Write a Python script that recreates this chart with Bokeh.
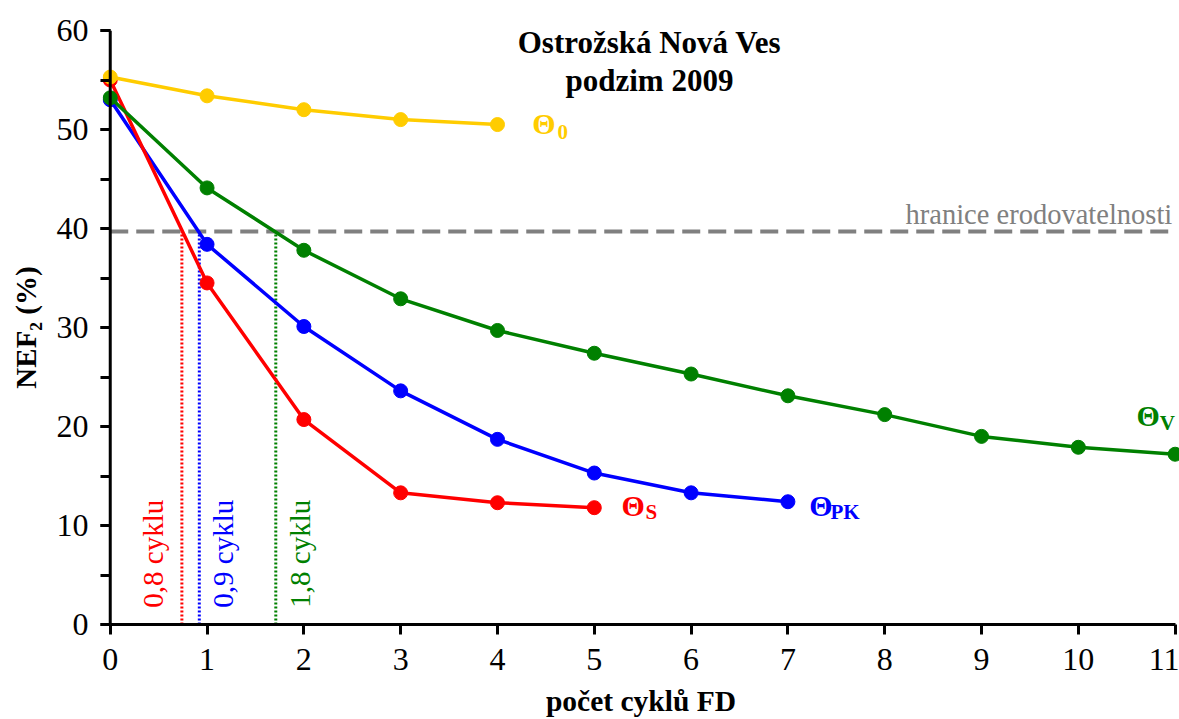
import math
from bokeh.plotting import figure
from bokeh.models import Range1d, FixedTicker, SingleIntervalTicker, Span, Label
from bokeh.core.properties import value
from bokeh.embed import file_html
from bokeh.resources import INLINE

# ---------------- data ----------------
cycles = list(range(12))
theta_0 = [55.3, 53.4, 52.0, 51.0, 50.5]
theta_s = [55.0, 34.5, 20.7, 13.3, 12.3, 11.8]
theta_pk = [53.0, 38.4, 30.1, 23.6, 18.7, 15.3, 13.3, 12.4]
theta_v = [53.2, 44.1, 37.8, 32.9, 29.7, 27.4, 25.3, 23.1, 21.2, 19.0, 17.9, 17.2]
threshold = 39.7
crossings = [0.74, 0.92, 1.71]
crossing_labels = ["0,8 cyklu", "0,9 cyklu", "1,8 cyklu"]
x_ticks = list(range(12))
title_lines = ["Ostrožská Nová Ves", "podzim 2009"]
threshold_label = "hranice erodovatelnosti"

FONT = "Liberation Serif"
GOLD, RED, BLUE, GREEN, GRAY = "#FFCC00", "#FF0000", "#0000FF", "#008000", "#808080"

p = figure(width=1179, height=719,
           x_range=Range1d(-0.08, 11.045), y_range=Range1d(0, 60),
           output_backend="svg", toolbar_location=None,
           min_border_left=102, min_border_right=0,
           min_border_top=30, min_border_bottom=95)
p.outline_line_color = None
p.xgrid.visible = False
p.ygrid.visible = False
p.background_fill_color = "white"
p.border_fill_color = "white"

# ---- axes ----
xa = p.xaxis[0]
xa.ticker = FixedTicker(ticks=x_ticks)
xa.bounds = (0, 11)
xa.axis_line_width = 3
xa.axis_line_color = "black"
xa.major_tick_line_width = 3
xa.major_tick_line_color = "black"
xa.major_tick_out = 10
xa.major_tick_in = 0
xa.minor_tick_line_color = None
xa.major_label_text_font = FONT
xa.major_label_text_font_size = "32px"
xa.major_label_text_color = "black"
xa.major_label_standoff = 14
xa.axis_label = "počet cyklů FD"
xa.axis_label_text_font = FONT
xa.axis_label_text_font_style = "bold"
xa.axis_label_text_font_size = "29.5px"
xa.axis_label_text_color = "black"
xa.axis_label_standoff = 12

ya = p.yaxis[0]
ya.ticker = SingleIntervalTicker(interval=10, num_minor_ticks=2)
ya.bounds = (0, 60)
ya.axis_line_color = None
ya.major_tick_line_width = 3
ya.minor_tick_line_width = 3
ya.major_tick_line_color = "black"
ya.minor_tick_line_color = "black"
ya.major_tick_out = 2
ya.major_tick_in = 8
ya.minor_tick_out = 2
ya.minor_tick_in = 8
ya.major_label_text_font = FONT
ya.major_label_text_font_size = "32px"
ya.major_label_text_color = "black"
ya.major_label_standoff = 12
ya.axis_label = "NEF₂ (%)"
ya.axis_label_text_font = FONT
ya.axis_label_text_font_style = "bold"
ya.axis_label_text_font_size = "29px"
ya.axis_label_text_color = "black"
ya.axis_label_standoff = 12

# y axis line at x = 0
p.add_layout(Span(location=cycles[0], dimension="height", line_color="black", line_width=3))

# ---- threshold ----
p.segment(x0=[cycles[0]], y0=[threshold], x1=[cycles[-1]], y1=[threshold],
          line_color=GRAY, line_width=4, line_dash="18 8")
p.add_layout(Label(x=10.97, y=41.4, text=threshold_label, text_align="right",
                   text_baseline="alphabetic", text_font=FONT,
                   text_font_size="28.5px", text_color=GRAY))

# ---- crossing verticals ----
cross_colors = [RED, BLUE, GREEN]
p.segment(x0=crossings, y0=[0] * 3, x1=crossings, y1=[threshold] * 3,
          line_color=cross_colors, line_width=3, line_dash="2 2")
label_x = [0.44, 1.16, 1.96]
p.text(x=label_x, y=[1.7] * 3, text=crossing_labels, angle=math.pi / 2,
       text_align="left", text_baseline="middle", text_color=cross_colors,
       text_font=value(FONT), text_font_size="29px")

# ---- series ----
series = [
    (theta_pk, BLUE),
    (theta_s, RED),
    (theta_v, GREEN),
    (theta_0, GOLD),
]
for ys, col in series:
    xs = cycles[:len(ys)]
    p.line(xs, ys, line_color=col, line_width=3.5)
    p.scatter(xs, ys, size=14, fill_color=col, line_color=col)

# ---- curve labels ----
theta_x = [4.36, 5.28, 7.22, 10.60]
theta_y = [50.6, 12.0, 12.0, 21.1]
sub_x = [4.62, 5.53, 7.44, 10.84]
sub_y = [49.7, 11.4, 11.4, 20.4]
subs = ["0", "S", "PK", "V"]
lab_colors = [GOLD, RED, BLUE, GREEN]
p.text(x=theta_x, y=theta_y, text=["Θ"] * 4, text_color=lab_colors,
       text_align="left", text_baseline="middle", text_font=value(FONT),
       text_font_style="bold", text_font_size="30px")
p.text(x=sub_x, y=sub_y, text=subs, text_color=lab_colors,
       text_align="left", text_baseline="middle", text_font=value(FONT),
       text_font_style="bold", text_font_size="21px")

# ---- title ----
for txt, yy in zip(title_lines, [58.8, 54.9]):
    p.add_layout(Label(x=5.57, y=yy, text=txt, text_align="center",
                       text_baseline="alphabetic", text_font=FONT,
                       text_font_style="bold", text_font_size="31px",
                       text_color="black"))

open("out.html", "w").write(file_html(p, INLINE))
